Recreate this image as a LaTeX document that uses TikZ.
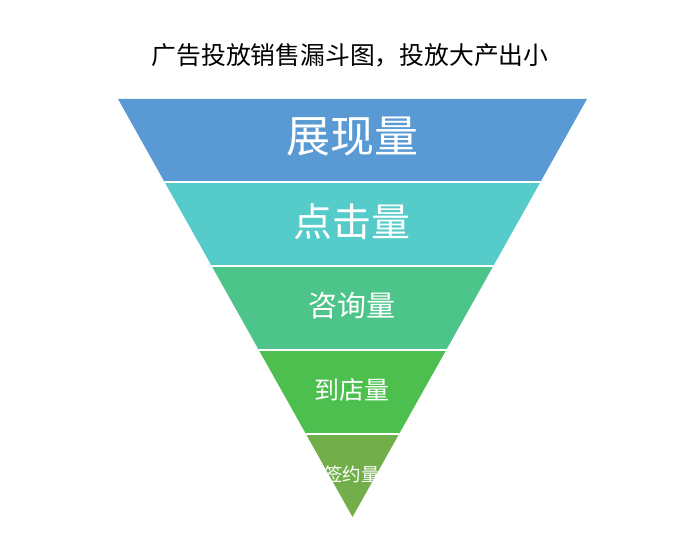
\documentclass[tikz,border=0pt]{standalone}
\usepackage{fontspec}
\newfontfamily\cjk{Noto Sans CJK SC}
\definecolor{bandA}{HTML}{5A9AD4}
\definecolor{bandB}{HTML}{55CCC9}
\definecolor{bandC}{HTML}{4DC489}
\definecolor{bandD}{HTML}{4CBF4E}
\definecolor{bandE}{HTML}{72AF4A}
\begin{document}
\begin{tikzpicture}[x=1pt,y=-1pt,
  lbl/.style={text=white,font=\cjk,inner sep=0pt,anchor=center},
  sep/.style={draw=white,line width=1.2pt}]
\useasboundingbox (0,0) rectangle (700,534);
\fill[white] (0,0) rectangle (700,534);
\node[font=\cjk\fontsize{24.8}{29}\selectfont,text=black,inner sep=0pt] (title) at (350,55) {广告投放销售漏斗图，投放大产出小};
\coordinate (tl) at (118,99);
\coordinate (tr) at (587,99);
\coordinate (ap) at (352.5,517);
\begin{scope}
\clip (tl) -- (tr) -- (ap) -- cycle;
\fill[bandA] (100,90) rectangle (600,182);
\fill[bandB] (100,182) rectangle (600,266);
\fill[bandC] (100,266) rectangle (600,350);
\fill[bandD] (100,350) rectangle (600,434);
\fill[bandE] (100,434) rectangle (600,530);
\draw[sep] (100,182) -- (600,182);
\draw[sep] (100,266) -- (600,266);
\draw[sep] (100,350) -- (600,350);
\draw[sep] (100,434) -- (600,434);
\end{scope}
\node[lbl,font=\cjk\fontsize{44}{50}\selectfont] (l1) at (352,137) {展现量};
\node[lbl,font=\cjk\fontsize{39}{44}\selectfont] (l2) at (352,222) {点击量};
\node[lbl,font=\cjk\fontsize{29}{34}\selectfont] (l3) at (352,306) {咨询量};
\node[lbl,font=\cjk\fontsize{25}{30}\selectfont] (l4) at (352,390) {到店量};
\node[lbl,font=\cjk\fontsize{18.5}{22}\selectfont] (l5) at (352,474) {签约量};
\end{tikzpicture}
\end{document}
